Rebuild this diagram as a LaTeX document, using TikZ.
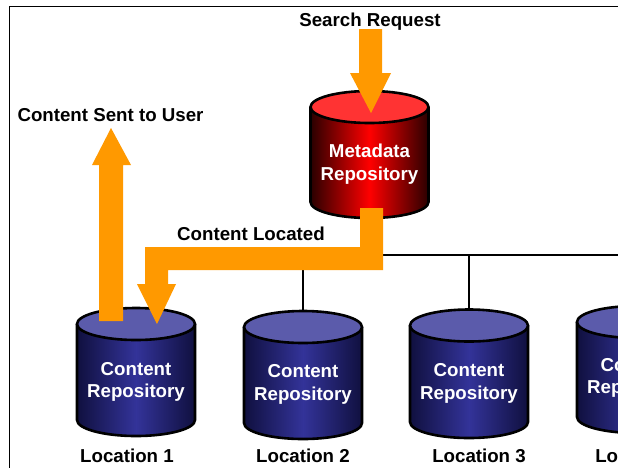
\documentclass[tikz,border=0pt]{standalone}
\usepackage{fontspec}
\setmainfont{Liberation Sans}
\definecolor{arrowor}{HTML}{FF9900}
\definecolor{reddark}{HTML}{2A0000}
\definecolor{redmid}{HTML}{FF0000}
\definecolor{redtop}{HTML}{FF3333}
\definecolor{bluedark}{HTML}{10103F}
\definecolor{bluemid}{HTML}{333399}
\definecolor{bluetop}{HTML}{5B5BAB}
\tikzset{
  blackline/.style={draw=black,line width=2.6pt},
  framebox/.style={draw=black,line width=1.3pt},
  flowarrow/.style={fill=arrowor,draw=none},
  caption/.style={font=\bfseries\fontsize{18.7pt}{22pt}\selectfont,text=black,inner sep=0pt,anchor=center},
  repotext/.style={font=\bfseries\fontsize{18.7pt}{22.5pt}\selectfont,text=white,align=center,inner sep=0pt,anchor=center}
}
% name, x centre, y of top ellipse centre, y of bottom ellipse centre, dark, mid, top, text y, text
\newcommand{\repodrum}[9]{%
  \coordinate (#1top) at (#2,#3-16);
  \shade[left color=#5,right color=#5,middle color=#6]
    (#2-59,#3) -- (#2-59,#4) arc[start angle=180,end angle=360,x radius=59pt,y radius=16pt]
    -- (#2+59,#3) arc[start angle=0,end angle=180,x radius=59pt,y radius=16pt] -- cycle;
  \draw[blackline]
    (#2-59,#3) -- (#2-59,#4) arc[start angle=180,end angle=360,x radius=59pt,y radius=16pt]
    -- (#2+59,#3);
  \draw[blackline,fill=#7] (#2,#3) ellipse[x radius=59pt,y radius=16pt];
  \node[repotext] (#1label) at (#2,#8) {#9};
}
\begin{document}
\begin{tikzpicture}[x=1pt,y=-1pt]
\useasboundingbox (0,0) rectangle (618,467);
\clip (0,0) rectangle (618,467);
\fill[white] (0,0) rectangle (618,467);
% frame
\draw[framebox] (9.5,470) -- (9.5,6.5) -- (620,6.5);

% connectors
\coordinate (busstart) at (383,255);
\coordinate (busend) at (620,255);
\coordinate (drop2) at (303,255);
\coordinate (drop3) at (469,255);

% repositories
\repodrum{meta}{369.5}{107}{202}{reddark}{redmid}{redtop}{164}{Metadata\\Repository}
\repodrum{repoa}{136}{324}{420}{bluedark}{bluemid}{bluetop}{382}{Content\\Repository}
\repodrum{repob}{303}{327}{423}{bluedark}{bluemid}{bluetop}{384.5}{Content\\Repository}
\repodrum{repoc}{469}{325.5}{422}{bluedark}{bluemid}{bluetop}{383.5}{Content\\Repository}
\repodrum{repod}{636}{322}{417}{bluedark}{bluemid}{bluetop}{378}{Content\\Repository}

\draw[blackline] (busstart) -- (busend);
\draw[blackline] (drop2) -- (repobtop);
\draw[blackline] (drop3) -- (repoctop);

% orange arrows
\fill[flowarrow] (359,29) -- (382,29) -- (382,73) -- (391,73) -- (371,113) -- (350,73) -- (359,73) -- cycle;
\fill[flowarrow] (360,208) -- (383,208) -- (383,270) -- (168,270) -- (168,284) -- (176,284) -- (157,324) -- (137,284) -- (145,284) -- (145,247) -- (360,247) -- cycle;
\fill[flowarrow] (99,321) -- (123,321) -- (123,165) -- (131,165) -- (111,128) -- (92,165) -- (99,165) -- cycle;

% captions
\node[caption] (search) at (370,21.5) {Search Request};
\node[caption] (sent) at (110.5,115) {Content Sent to User};
\node[caption] (located) at (251,234) {Content Located};
\node[caption] (loca) at (127,456) {Location 1};
\node[caption] (locb) at (303,456) {Location 2};
\node[caption] (locc) at (479,456) {Location 3};
\node[caption] (locd) at (642,456) {Location 4};
\end{tikzpicture}
\end{document}
